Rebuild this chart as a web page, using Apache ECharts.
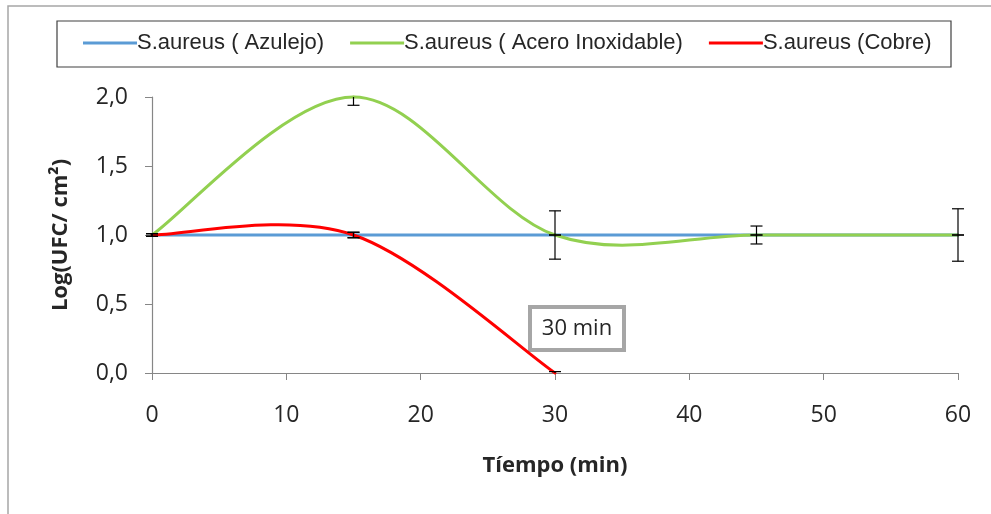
<!DOCTYPE html>
<html>
<head>
<meta charset="utf-8">
<script src="https://cdn.jsdelivr.net/npm/echarts@6/dist/echarts.min.js"></script>
<style>
html, body { margin: 0; padding: 0; background: #fff; }
#chart { width: 991px; height: 514px; }
</style>
</head>
<body>
<div id="chart"></div>
<script>
// datos
var tiempos = [0, 15, 30, 45, 60];
var azulejo = [1.0, 1.0, 1.0, 1.0, 1.0];
var acero = [1.0, 2.0, 1.0, 1.0, 1.0];
var cobre = [1.0, 1.0, 0.0];
var azulejoErr = [0.01, 0.02, 0.0, 0.0, 0.0];
var aceroErr = [0.01, 0.06, 0.175, 0.065, 0.19];
var cobreErr = [0.01, 0.02, 0.01];
var yTicks = [0, 0.5, 1, 1.5, 2];

var nombres = ['S.aureus ( Azulejo)', 'S.aureus ( Acero Inoxidable)', 'S.aureus (Cobre)'];
var colores = ['#5b9bd5', '#92d050', '#ff0000'];

var yMin = yTicks[0], yMax = yTicks[yTicks.length - 1];

function puntos(vals) {
    return vals.map(function (v, i) { return [tiempos[i], v]; });
}
function barras(vals, errs) {
    return vals.map(function (v, i) { return [tiempos[i], v, errs[i]]; });
}

// curva suavizada tipo Excel (Catmull-Rom), tramo i -> i+1
function curva(n, color) {
    return function (params, api) {
        var i = params.dataIndex;
        if (i >= n - 1) return null;
        var p = function (k) { return api.coord([api.value(0, k), api.value(1, k)]); };
        var p0 = p(Math.max(i - 1, 0)), p1 = p(i), p2 = p(i + 1), p3 = p(Math.min(i + 2, n - 1));
        return {
            type: 'bezierCurve',
            shape: {
                x1: p1[0], y1: p1[1], x2: p2[0], y2: p2[1],
                cpx1: p1[0] + (p2[0] - p0[0]) / 6, cpy1: p1[1] + (p2[1] - p0[1]) / 6,
                cpx2: p2[0] - (p3[0] - p1[0]) / 6, cpy2: p2[1] - (p3[1] - p1[1]) / 6
            },
            style: { stroke: color, lineWidth: 3, fill: null, lineCap: 'round' }
        };
    };
}

// barras de error, recortadas solo en vertical (sin cap si se sale del eje)
function errorItem(params, api) {
    var x = api.value(0), y = api.value(1), e = api.value(2);
    var hi = Math.min(y + e, yMax), lo = Math.max(y - e, yMin);
    var top = api.coord([x, hi]);
    var bot = api.coord([x, lo]);
    var w = 6;
    var st = { stroke: '#000', lineWidth: 1.2 };
    var kids = [{ type: 'line', shape: { x1: top[0], y1: top[1], x2: bot[0], y2: bot[1] }, style: st }];
    if (y + e <= yMax) kids.push({ type: 'line', shape: { x1: top[0] - w, y1: top[1], x2: top[0] + w, y2: top[1] }, style: st });
    if (y - e >= yMin) kids.push({ type: 'line', shape: { x1: bot[0] - w, y1: bot[1], x2: bot[0] + w, y2: bot[1] }, style: st });
    return { type: 'group', children: kids };
}

var fuente = '"Open Sans", "Noto Sans", sans-serif';
var chartDom = document.getElementById('chart');
var myChart = echarts.init(chartDom);
var option;

option = {
    animation: false,
    grid: { left: 152, right: 33, top: 97, bottom: 141 },
    graphic: [
        { type: 'rect', shape: { x: 8, y: 6, width: 1000, height: 600 }, style: { fill: 'none', stroke: '#a6a6a6', lineWidth: 1.5 }, z: 0 },
        { type: 'rect', shape: { x: 57, y: 21, width: 894, height: 46 }, style: { fill: '#fff', stroke: '#404040', lineWidth: 1.2 }, z: 1 },
        {
            type: 'group', left: 528, top: 305, z: 10,
            children: [
                { type: 'rect', shape: { x: 0, y: 0, width: 94, height: 43 }, style: { fill: '#fff', stroke: '#a6a6a6', lineWidth: 4 } },
                { type: 'text', x: 47, y: 22, style: { text: '30 min', font: '22px ' + fuente, fill: '#262626', align: 'center', verticalAlign: 'middle' } }
            ]
        }
    ],
    legend: {
        top: 32,
        left: 83,
        padding: 0,
        itemWidth: 54,
        itemHeight: 3,
        itemGap: 26,
        icon: 'rect',
        z: 5,
        data: nombres,
        textStyle: { color: '#262626', fontSize: 22, fontFamily: '"Liberation Sans", Arial, sans-serif', padding: [0, 0, 0, -5] }
    },
    xAxis: {
        type: 'value',
        min: 0, max: 60, interval: 10,
        name: 'Tíempo (min)',
        nameLocation: 'middle',
        nameGap: 82,
        nameTextStyle: { fontSize: 22, fontWeight: 'bold', color: '#262626', fontFamily: fuente },
        axisLine: { lineStyle: { color: '#868686', width: 1.2 } },
        axisTick: { show: true, length: 7, lineStyle: { color: '#868686' } },
        axisLabel: { fontSize: 23, color: '#262626', fontFamily: fuente, margin: 31 },
        splitLine: { show: false }
    },
    yAxis: {
        type: 'value',
        min: yMin, max: yMax, interval: 0.5,
        name: 'Log(UFC/ cm²)',
        nameLocation: 'middle',
        nameGap: 80,
        nameTextStyle: { fontSize: 22, fontWeight: 'bold', color: '#262626', fontFamily: fuente },
        axisLine: { show: true, lineStyle: { color: '#868686', width: 1.2 } },
        axisTick: { show: true, length: 7, lineStyle: { color: '#868686' } },
        axisLabel: {
            fontSize: 23, color: '#262626', fontFamily: fuente, margin: 24,
            formatter: function (v) { return v.toFixed(1).replace('.', ','); }
        },
        splitLine: { show: false }
    },
    series: [
        { name: nombres[0], type: 'custom', renderItem: curva(azulejo.length, colores[0]), data: puntos(azulejo), itemStyle: { color: colores[0] }, z: 2, silent: true },
        { name: nombres[1], type: 'custom', renderItem: curva(acero.length, colores[1]), data: puntos(acero), itemStyle: { color: colores[1] }, z: 3, silent: true },
        { name: nombres[2], type: 'custom', renderItem: curva(cobre.length, colores[2]), data: puntos(cobre), itemStyle: { color: colores[2] }, z: 4, silent: true },
        { type: 'custom', renderItem: errorItem, data: barras(azulejo, azulejoErr), z: 6, silent: true },
        { type: 'custom', renderItem: errorItem, data: barras(acero, aceroErr), z: 6, silent: true },
        { type: 'custom', renderItem: errorItem, data: barras(cobre, cobreErr), z: 6, silent: true }
    ]
};

option && myChart.setOption(option);
window.addEventListener('resize', function () {
    myChart.resize();
});
</script>
</body>
</html>
